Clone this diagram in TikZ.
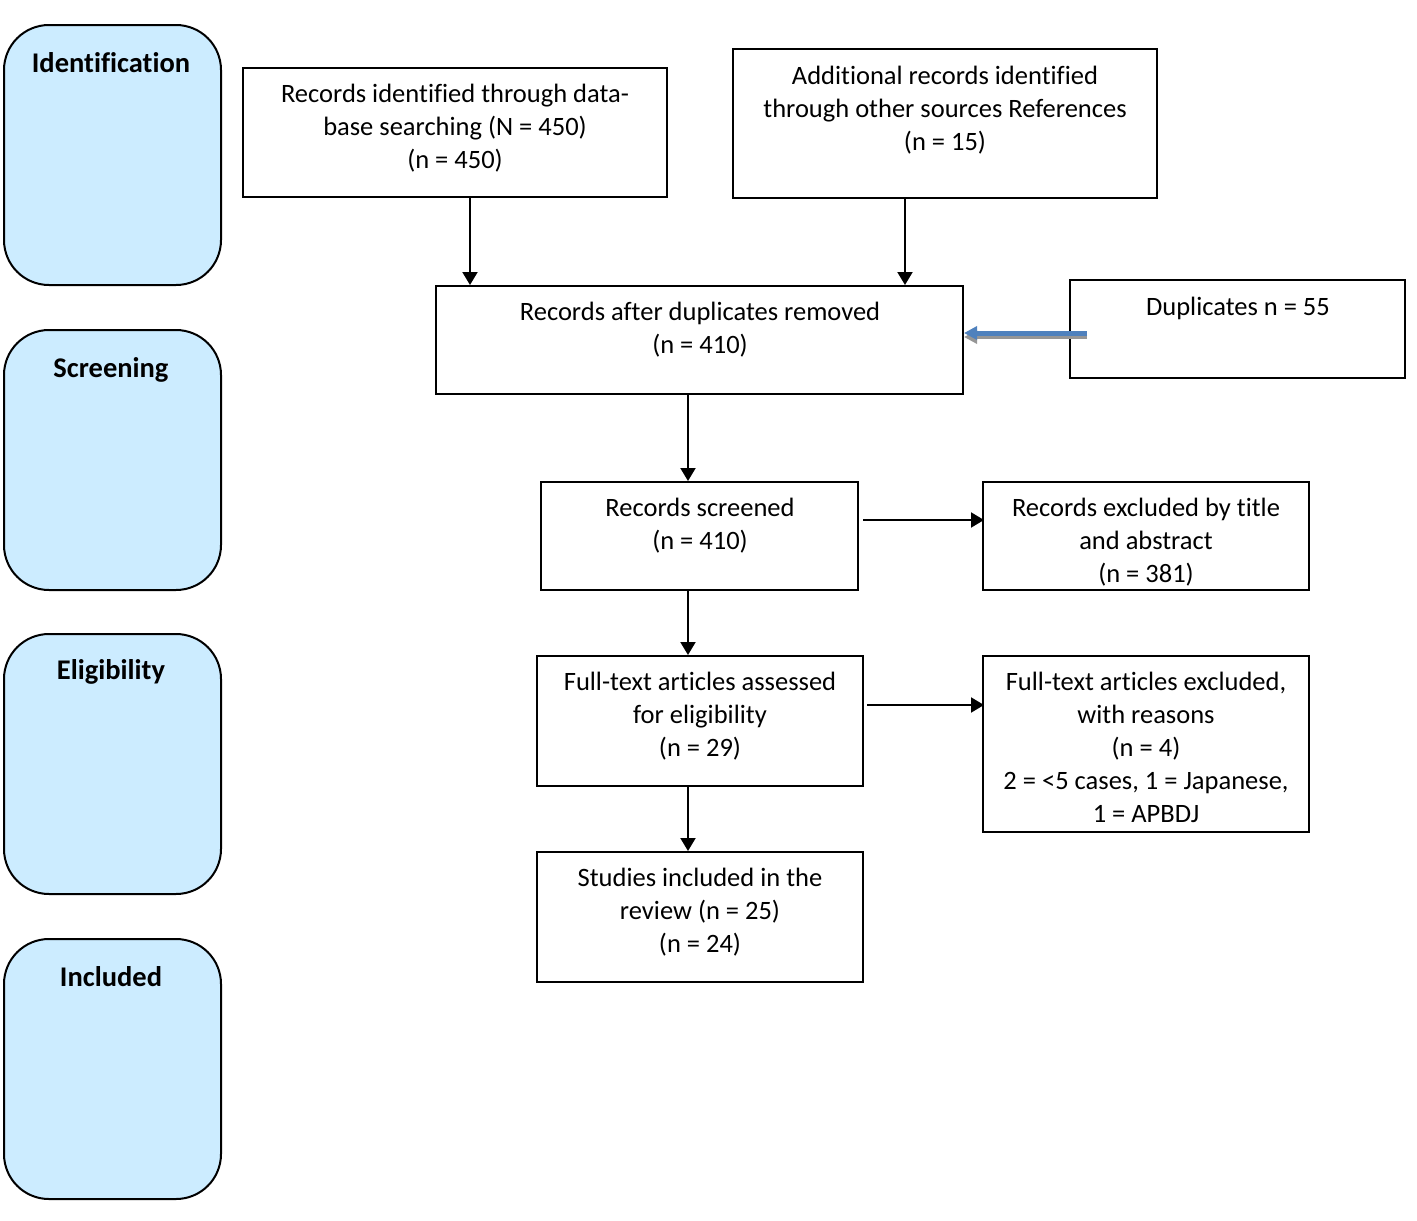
\documentclass[tikz,border=0pt]{standalone}
\usepackage{fontspec}
\setmainfont[Ligatures=NoCommon]{Carlito}
\usetikzlibrary{arrows.meta,fit}
\definecolor{phase}{RGB}{204,236,255}
\definecolor{dupblue}{RGB}{79,129,189}
\definecolor{dupshadow}{RGB}{150,150,150}
\tikzset{
  box/.style={draw=black, line width=2pt, inner sep=0pt},
  phasebox/.style={draw=black, line width=2pt, fill=phase, rounded corners=45pt, inner sep=0pt},
  txt/.style={anchor=north, align=center, inner sep=0pt, font=\fontsize{26.5}{33}\selectfont},
  phasetxt/.style={anchor=base, inner sep=0pt, font=\fontsize{28.5}{34}\selectfont\bfseries},
  arr/.style={line width=2pt, -{Triangle[length=13pt,width=15pt]}},
}
\begin{document}
\begin{tikzpicture}[x=1pt,y=-1pt]
\useasboundingbox (0,0) rectangle (1417,1221);
% phase boxes
\node[phasebox, fit={(4,25) (221,285)}] (p1) {};
\node[phasebox, fit={(4,330) (221,590)}] (p2) {};
\node[phasebox, fit={(4,634) (221,894)}] (p3) {};
\node[phasebox, fit={(4,939) (221,1199)}] (p4) {};
\node[phasetxt] (p1t) at (111,72) {Identification};
\node[phasetxt] (p2t) at (111,377) {Screening};
\node[phasetxt] (p3t) at (111,679) {Eligibility};
\node[phasetxt] (p4t) at (111,986) {Included};
% boxes
\node[box, fit={(243,68) (667,197)}] (b1) {};
\node[txt] (b1t) at (455,79) {\strut Records identified through data-\\base searching (N = 450)\\(n = 450)};
\node[box, fit={(733,49) (1157,198)}] (b2) {};
\node[txt] (b2t) at (945,61) {\strut Additional records identified\\through other sources References\\(n = 15)};
\node[box, fit={(436,286) (963,394)}] (b3) {};
\node[txt] (b3t) at (700,297) {\strut Records after duplicates removed\\(n = 410)};
\node[box, fit={(1070,280) (1405,378)}] (dup) {};
\node[txt] (dupt) at (1238,292) {\strut Duplicates n = 55};
\node[box, fit={(541,482) (858,590)}] (scr) {};
\node[txt] (scrt) at (700,493) {\strut Records screened\\(n = 410)};
\node[box, fit={(983,482) (1309,590)}] (ex1) {};
\node[txt] (ex1t) at (1146,493) {\strut Records excluded by title\\and abstract\\(n = 381)};
\node[box, fit={(537,656) (863,786)}] (ft) {};
\node[txt] (ftt) at (700,667) {\strut Full-text articles assessed\\for eligibility\\(n = 29)};
\node[box, fit={(983,656) (1309,832)}] (ex2) {};
\node[txt] (ex2t) at (1146,667) {\strut Full-text articles excluded,\\with reasons\\(n = 4)\\2 = <5 cases, 1 = Japanese,\\1 = APBDJ};
\node[box, fit={(537,852) (863,982)}] (inc) {};
\node[txt] (inct) at (700,863) {\strut Studies included in the\\review (n = 25)\\(n = 24)};
% connector x positions
\coordinate (x1) at (470,0);
\coordinate (x2) at (905,0);
\coordinate (x3) at (688,0);
\coordinate (y1) at (0,520);
\coordinate (y2) at (0,705);
\coordinate (dupstart) at (1087,333);
\coordinate (dupshadowstart) at (1087,337);
% arrows
\draw[arr] (b1.south -| x1) -- (b3.north -| x1);
\draw[arr] (b2.south -| x2) -- (b3.north -| x2);
\draw[arr] (b3.south -| x3) -- (scr.north -| x3);
\draw[arr] (scr.south -| x3) -- (ft.north -| x3);
\draw[arr] (ft.south -| x3) -- (inc.north -| x3);
\draw[arr, shorten <=4pt, shorten >=-2pt] (scr.east |- y1) -- (ex1.west |- y1);
\draw[arr, shorten <=3pt, shorten >=-2pt] (ft.east |- y2) -- (ex2.west |- y2);
% duplicates arrow with shadow
\draw[line width=4pt, dupshadow, -{Triangle[length=13pt,width=13pt]}] (dupshadowstart) -- (b3.east |- dupshadowstart);
\draw[line width=5pt, dupblue, -{Triangle[length=13pt,width=13pt]}] (dupstart) -- (b3.east |- dupstart);
\end{tikzpicture}
\end{document}
